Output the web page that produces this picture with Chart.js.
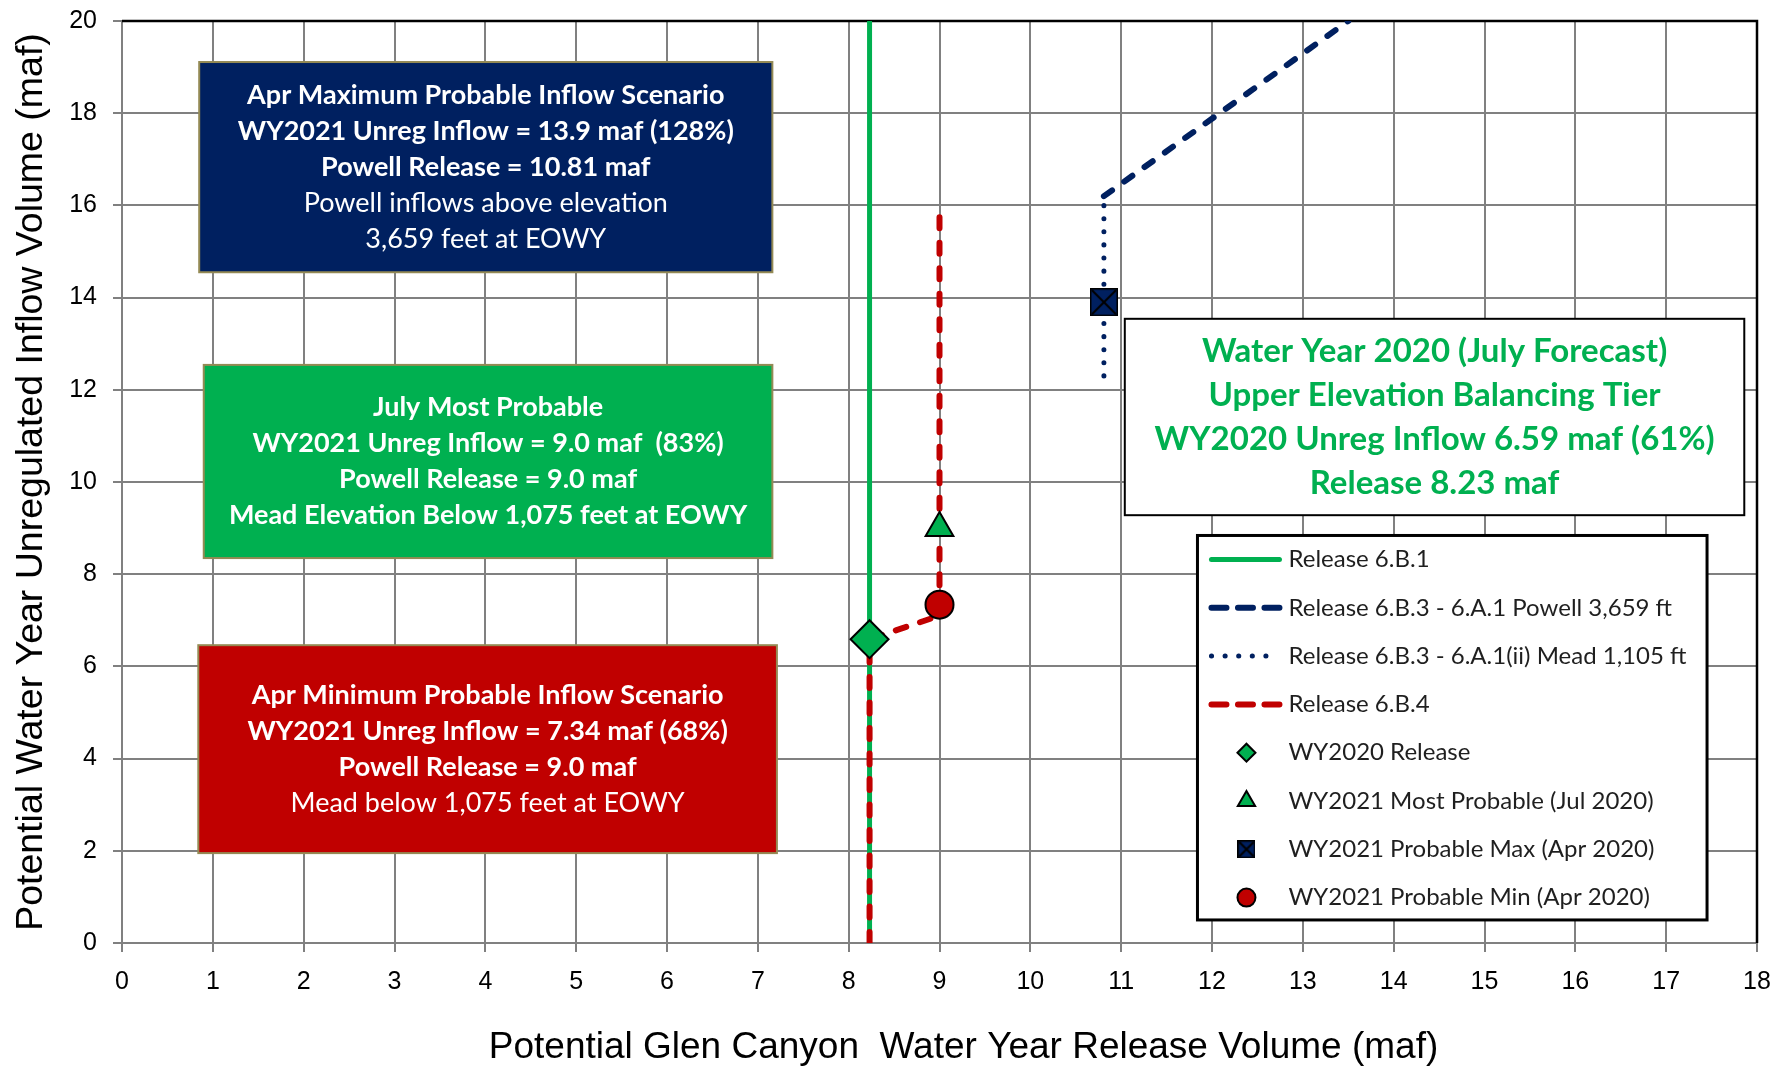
<!DOCTYPE html>
<html>
<head>
<meta charset="utf-8">
<script src="https://cdn.jsdelivr.net/npm/chart.js@4.4.0/dist/chart.umd.min.js"></script>
<style>
    html, body { margin: 0; padding: 0; background: #fff; }
    #grafico_wrap { width: 1786px; height: 1069px; position: relative; }
</style>
</head>
<body>
<div id="grafico_wrap"><canvas id="grafico"></canvas></div>
<script>
// eixos
const xTicks = [0, 1, 2, 3, 4, 5, 6, 7, 8, 9, 10, 11, 12, 13, 14, 15, 16, 17, 18]
const yTicks = [0, 2, 4, 6, 8, 10, 12, 14, 16, 18, 20]
const tituloX = 'Potential Glen Canyon  Water Year Release Volume (maf)'
const tituloY = 'Potential Water Year Unregulated Inflow Volume (maf)'

// Release 6.B.1
const rel6B1X = [8.23, 8.23]
const rel6B1Y = [0, 20]
// Release 6.B.3 - 6.A.1 Powell 3,659 ft
const rel6B3PowellX = [10.81, 13.5]
const rel6B3PowellY = [16.2, 20]
// Release 6.B.3 - 6.A.1(ii) Mead 1,105 ft
const rel6B3MeadX = [10.81, 10.81]
const rel6B3MeadY = [12.3, 16.2]
// Release 6.B.4
const rel6B4X = [8.23, 8.23, 9.0, 9.0]
const rel6B4Y = [0, 6.59, 7.1, 16]

// marcadores [x, y]
const wy2020Release = [8.23, 6.59]
const wy2021MaisProvavel = [9.0, 9.0]
const wy2021ProvavelMax = [10.81, 13.9]
const wy2021ProvavelMin = [9.0, 7.34]

// textos das caixas
const textoMax = ['Apr Maximum Probable Inflow Scenario', 'WY2021 Unreg Inflow = 13.9 maf (128%)', 'Powell Release = 10.81 maf', 'Powell inflows above elevation', '3,659 feet at EOWY']
const textoJulho = ['July Most Probable', 'WY2021 Unreg Inflow = 9.0 maf  (83%)', 'Powell Release = 9.0 maf', 'Mead Elevation Below 1,075 feet at EOWY']
const textoMin = ['Apr Minimum Probable Inflow Scenario', 'WY2021 Unreg Inflow = 7.34 maf (68%)', 'Powell Release = 9.0 maf', 'Mead below 1,075 feet at EOWY']
const textoWY2020 = ['Water Year 2020 (July Forecast)', 'Upper Elevation Balancing Tier', 'WY2020 Unreg Inflow 6.59 maf (61%)', 'Release 8.23 maf']

const AZUL = '#002060'
const VERDE = '#00B050'
const VERMELHO = '#C00000'
const FONTE_EIXO = "'Liberation Sans', Arial, sans-serif"
const FONTE_CAIXA = "Lato, 'Open Sans', sans-serif"

function pontos(xs, ys) {
    return xs.map((v, i) => ({ x: v, y: ys[i] }))
}

function quadradoX(tam) {
    const c = document.createElement('canvas')
    c.width = tam
    c.height = tam
    const g = c.getContext('2d')
    g.fillStyle = AZUL
    g.fillRect(0, 0, tam, tam)
    g.strokeStyle = '#000'
    g.lineWidth = 1.5
    g.strokeRect(0.75, 0.75, tam - 1.5, tam - 1.5)
    g.lineWidth = 2
    g.beginPath()
    g.moveTo(2, 2); g.lineTo(tam - 2, tam - 2)
    g.moveTo(tam - 2, 2); g.lineTo(2, tam - 2)
    g.stroke()
    return c
}
const marcaMax = quadradoX(28)
const marcaMaxLegenda = quadradoX(18)

// caixas em unidades do grafico
const caixas = [
    { linhas: textoMax, negrito: [1, 1, 1, 0, 0], x0: 0.85, x1: 7.16, y0: 14.55, y1: 19.11, fundo: AZUL, borda: '#948A54', bw: 2, cor: '#fff', fonte: 27, passo: 36 },
    { linhas: textoJulho, negrito: [1, 1, 1, 1], x0: 0.90, x1: 7.16, y0: 8.35, y1: 12.54, fundo: VERDE, borda: '#948A54', bw: 2, cor: '#fff', fonte: 27, passo: 36 },
    { linhas: textoMin, negrito: [1, 1, 1, 0], x0: 0.84, x1: 7.21, y0: 1.95, y1: 6.46, fundo: VERMELHO, borda: '#948A54', bw: 2, cor: '#fff', fonte: 27, passo: 36 },
    { linhas: textoWY2020, negrito: [1, 1, 1, 1], x0: 11.04, x1: 17.86, y0: 9.28, y1: 13.54, fundo: '#fff', borda: '#000', bw: 2, cor: VERDE, fonte: 33, passo: 44 }
]
const caixaLegenda = { x0: 11.84, x1: 17.45, y0: 0.5, y1: 8.84 }

const caixasPlugin = {
    id: 'caixas',
    beforeDatasetsDraw(chart) {
        const { ctx, chartArea } = chart
        const x = chart.scales.x
        const y = chart.scales.y
        ctx.save()
        // borda preta em cima e a direita
        ctx.strokeStyle = '#000'
        ctx.lineWidth = 2.5
        ctx.beginPath()
        ctx.moveTo(chartArea.left, chartArea.top)
        ctx.lineTo(chartArea.right, chartArea.top)
        ctx.lineTo(chartArea.right, chartArea.bottom)
        ctx.stroke()

        caixas.forEach(c => {
            const l = x.getPixelForValue(c.x0)
            const r = x.getPixelForValue(c.x1)
            const t = y.getPixelForValue(c.y1)
            const b = y.getPixelForValue(c.y0)
            ctx.fillStyle = c.fundo
            ctx.fillRect(l, t, r - l, b - t)
            ctx.strokeStyle = c.borda
            ctx.lineWidth = c.bw
            ctx.strokeRect(l, t, r - l, b - t)
            ctx.fillStyle = c.cor
            ctx.textAlign = 'center'
            ctx.textBaseline = 'middle'
            const meio = (t + b) / 2
            const n = c.linhas.length
            c.linhas.forEach((txt, i) => {
                ctx.font = `${c.negrito[i] ? 'bold ' : ''}${c.fonte}px ${FONTE_CAIXA}`
                ctx.fillText(txt, (l + r) / 2, meio + (i - (n - 1) / 2) * c.passo)
            })
        })

        // legenda
        const l = x.getPixelForValue(caixaLegenda.x0)
        const r = x.getPixelForValue(caixaLegenda.x1)
        const t = y.getPixelForValue(caixaLegenda.y1)
        const b = y.getPixelForValue(caixaLegenda.y0)
        ctx.fillStyle = '#fff'
        ctx.fillRect(l, t, r - l, b - t)
        ctx.strokeStyle = '#000'
        ctx.lineWidth = 3
        ctx.strokeRect(l, t, r - l, b - t)
        chart.data.datasets.forEach((ds, i) => {
            const yy = t + 24 + i * 48.3
            if (ds.showLine) {
                ctx.strokeStyle = ds.borderColor
                ctx.lineWidth = ds.borderWidth
                ctx.lineCap = 'round'
                ctx.setLineDash(ds.legendaDash || [])
                ctx.beginPath()
                ctx.moveTo(l + 14, yy)
                ctx.lineTo(l + 82, yy)
                ctx.stroke()
                ctx.setLineDash([])
            } else {
                ctx.fillStyle = ds.pointBackgroundColor
                ctx.strokeStyle = '#000'
                ctx.lineWidth = 2
                Chart.helpers.drawPoint(ctx, {
                    pointStyle: ds.pointStyle === marcaMax ? marcaMaxLegenda : ds.pointStyle,
                    radius: ds.legendaRaio, rotation: 0, borderWidth: 2
                }, l + 49, yy)
            }
            ctx.fillStyle = '#1f1f1f'
            ctx.font = `24px ${FONTE_CAIXA}`
            ctx.textAlign = 'left'
            ctx.textBaseline = 'middle'
            ctx.fillText(ds.label, l + 91, yy)
        })
        ctx.restore()
    },
    afterDraw(chart) {
        // titulo do eixo x (deslocado para a direita como no original)
        const { ctx, chartArea } = chart
        ctx.save()
        ctx.fillStyle = '#000'
        ctx.font = `37px ${FONTE_EIXO}`
        ctx.textAlign = 'center'
        ctx.textBaseline = 'middle'
        ctx.fillText(tituloX, (chartArea.left + chartArea.right) / 2 + 24, chart.height - 21)
        ctx.restore()
    }
}

function linha(label, xs, ys, cor, largura, dash, dashLeg, ordem) {
    return {
        label: label, data: pontos(xs, ys), showLine: true, fill: false,
        borderColor: cor, backgroundColor: cor, borderWidth: largura, borderDash: dash,
        legendaDash: dashLeg, borderCapStyle: 'round', pointRadius: 0, order: ordem
    }
}

function marcador(label, p, estilo, raio, cor, raioLeg) {
    return {
        label: label, data: [{ x: p[0], y: p[1] }], showLine: false,
        pointStyle: estilo, pointRadius: raio, pointBackgroundColor: cor,
        pointBorderColor: '#000', pointBorderWidth: 2, backgroundColor: cor,
        borderColor: '#000', legendaRaio: raioLeg, order: 0
    }
}

new Chart(document.getElementById('grafico'), {
    type: 'scatter',
    data: {
        datasets: [
            linha('Release 6.B.1', rel6B1X, rel6B1Y, VERDE, 5, [], [], 3),
            linha('Release 6.B.3 - 6.A.1 Powell 3,659 ft', rel6B3PowellX, rel6B3PowellY, AZUL, 6, [10, 15], [15, 11.5], 1),
            linha('Release 6.B.3 - 6.A.1(ii) Mead 1,105 ft', rel6B3MeadX, rel6B3MeadY, AZUL, 5, [0.1, 13], [0.1, 13.5], 1),
            linha('Release 6.B.4', rel6B4X, rel6B4Y, VERMELHO, 6, [11, 14.5], [15, 11.5], 2),
            marcador('WY2020 Release', wy2020Release, 'rectRot', 19, VERDE, 9),
            marcador('WY2021 Most Probable (Jul 2020)', wy2021MaisProvavel, 'triangle', 16, VERDE, 10),
            marcador('WY2021 Probable Max (Apr 2020)', wy2021ProvavelMax, marcaMax, 14, AZUL, 9),
            marcador('WY2021 Probable Min (Apr 2020)', wy2021ProvavelMin, 'circle', 14, VERMELHO, 9)
        ]
    },
    options: {
        responsive: true,
        maintainAspectRatio: false,
        animation: false,
        devicePixelRatio: 1,
        layout: { padding: { top: 18, right: 29, left: 0, bottom: 0 } },
        plugins: {
            legend: { display: false },
            tooltip: { enabled: false }
        },
        scales: {
            x: {
                type: 'linear', min: 0, max: 18,
                afterBuildTicks: s => { s.ticks = xTicks.map(v => ({ value: v })) },
                afterFit: s => { s.height = 126 },
                ticks: { color: '#000', font: { size: 25, family: FONTE_EIXO }, padding: 15, maxRotation: 0 },
                grid: { color: '#808080', lineWidth: 2, tickLength: 9 },
                border: { color: '#808080', width: 2 },
                title: { display: false }
            },
            y: {
                type: 'linear', min: 0, max: 20,
                afterBuildTicks: s => { s.ticks = yTicks.map(v => ({ value: v })) },
                afterFit: s => { s.width = 122; s.paddingTop = 0; s.paddingBottom = 0 },
                ticks: { color: '#000', font: { size: 25, family: FONTE_EIXO }, padding: 16 },
                grid: { color: '#808080', lineWidth: 2, tickLength: 9 },
                border: { color: '#808080', width: 2 },
                title: { display: true, text: tituloY, color: '#000', font: { size: 37.5, family: FONTE_EIXO }, padding: { top: 9, bottom: 0 } }
            }
        }
    },
    plugins: [caixasPlugin]
})
</script>
</body>
</html>
